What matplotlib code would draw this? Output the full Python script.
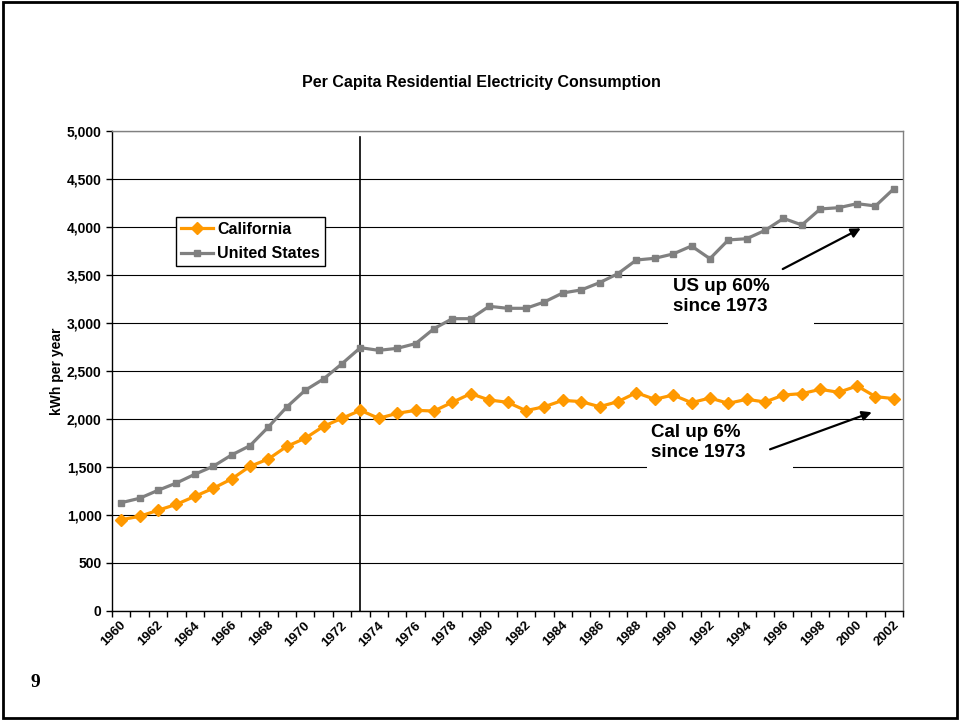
import matplotlib.pyplot as plt
import numpy as np
from matplotlib.patches import Rectangle
from matplotlib.ticker import FuncFormatter
from matplotlib.transforms import ScaledTranslation

plt.rcParams["font.family"] = ["Liberation Sans", "DejaVu Sans"]
plt.rcParams["font.weight"] = "bold"
plt.rcParams["axes.labelweight"] = "bold"

# Per capita residential consumption, kWh per year
years = list(range(1960, 2003))
california = [
    951, 986, 1049, 1111, 1194, 1278, 1375, 1507, 1583, 1715,
    1799, 1924, 2007, 2090, 2007, 2059, 2090, 2083, 2174, 2264,
    2198, 2174, 2087, 2128, 2194, 2181, 2128, 2181, 2274, 2205,
    2250, 2170, 2219, 2163, 2205, 2177, 2250, 2264, 2309, 2278,
    2344, 2233, 2212,
]
united_states = [
    1128, 1174, 1257, 1333, 1424, 1507, 1625, 1722, 1917, 2125,
    2299, 2417, 2576, 2743, 2715, 2736, 2785, 2941, 3045, 3045,
    3174, 3153, 3153, 3219, 3313, 3344, 3420, 3514, 3656, 3674,
    3719, 3802, 3670, 3865, 3878, 3965, 4090, 4021, 4188, 4201,
    4243, 4219, 4399,
]
y_ticks = list(range(0, 5001, 500))
break_year = 1973

ORANGE = "#FF9900"
GRAY = "#808080"


def plot_consumption():
    fig = plt.figure(figsize=(9.6, 7.21), dpi=100)
    ax = fig.add_axes([0.1167, 0.1526, 0.824, 0.6657])

    x = np.arange(len(years))
    ax.plot(x, california, color=ORANGE, lw=2.3, marker="D", ms=5.8,
            mec=ORANGE, mew=1, label="California", zorder=4)
    ax.plot(x, united_states, color=GRAY, lw=2.3, marker="s", ms=4.8,
            mec=GRAY, mew=1, label="United States", zorder=3)

    # 1973 divider
    xb = years.index(break_year)
    ax.plot([xb, xb], [0, 4940], color="black", lw=1.2, zorder=2)

    ax.set_xlim(-0.5, len(years) - 0.5)
    ax.set_ylim(0, 5000)

    # category axis: tick marks between years, labels every other year
    ax.set_xticks(x[::2])
    ax.set_xticklabels([str(y) for y in years[::2]], rotation=45, ha="right",
                       va="center", rotation_mode="anchor", fontsize=9.5)
    ax.set_xticks(np.arange(-0.5, len(years)), minor=True)
    ax.tick_params(axis="x", which="major", length=0, pad=9)
    ax.tick_params(axis="x", which="minor", length=4, width=1, direction="out")
    for lbl in ax.get_xticklabels():
        lbl.set_transform(lbl.get_transform()
                          + ScaledTranslation(3 / 100, 0, fig.dpi_scale_trans))

    ax.set_yticks(y_ticks)
    ax.yaxis.set_major_formatter(FuncFormatter(lambda v, p: f"{int(v):,}"))
    ax.tick_params(axis="y", length=4, width=1, direction="out", labelsize=10)
    ax.yaxis.grid(True, color="black", lw=0.8)
    ax.set_axisbelow(True)

    for side in ["left", "bottom"]:
        ax.spines[side].set_color("black")
        ax.spines[side].set_linewidth(1)
    for side in ["top", "right"]:
        ax.spines[side].set_color(GRAY)
        ax.spines[side].set_linewidth(1)

    ax.set_ylabel("kWh per year", fontsize=10, fontweight="bold", labelpad=2)
    fig.text(0.502, 0.886, "Per Capita Residential Electricity Consumption",
             ha="center", va="center", fontsize=11.5, fontweight="bold")

    # white text boxes sitting over the gridlines
    ax.add_patch(Rectangle((29.73, 2875), 7.93, 580, facecolor="white",
                           edgecolor="none", zorder=1))
    ax.add_patch(Rectangle((28.58, 1385), 7.94, 570, facecolor="white",
                           edgecolor="none", zorder=1))
    ax.text(29.98, 3469, "US up 60%\nsince 1973", ha="left", va="top",
            fontsize=13.5, fontweight="bold", linespacing=1.2, zorder=5)
    ax.text(28.80, 1948, "Cal up 6%\nsince 1973", ha="left", va="top",
            fontsize=13.5, fontweight="bold", linespacing=1.2, zorder=5)

    arrow = dict(arrowstyle="-|>", color="black", lw=1.6, mutation_scale=14,
                 shrinkA=0, shrinkB=0)
    ax.annotate("", xy=(40.20, 3986), xytext=(35.96, 3562), arrowprops=arrow,
                zorder=5)
    ax.annotate("", xy=(40.80, 2070), xytext=(35.27, 1684), arrowprops=arrow,
                zorder=5)

    leg = ax.legend(loc="upper left", bbox_to_anchor=(0.1833, 0.699),
                    bbox_transform=fig.transFigure, borderaxespad=0,
                    fontsize=11.5, handlelength=2.0, handletextpad=0.3,
                    borderpad=0.3, labelspacing=0.6, fancybox=False,
                    framealpha=1)
    leg.get_frame().set_edgecolor("black")
    leg.get_frame().set_linewidth(1)

    # slide number and frame
    fig.text(0.0365, 0.054, "9", ha="center", va="center", fontsize=14,
             fontweight="bold", family=["Liberation Serif", "DejaVu Serif"])
    fig.patches.append(Rectangle((0.003, 0.004), 0.994, 0.993, fill=False,
                                 edgecolor="black", lw=2,
                                 transform=fig.transFigure))

    fig.savefig("out.png", dpi=100)


def main():
    plot_consumption()


if __name__ == "__main__":
    main()
